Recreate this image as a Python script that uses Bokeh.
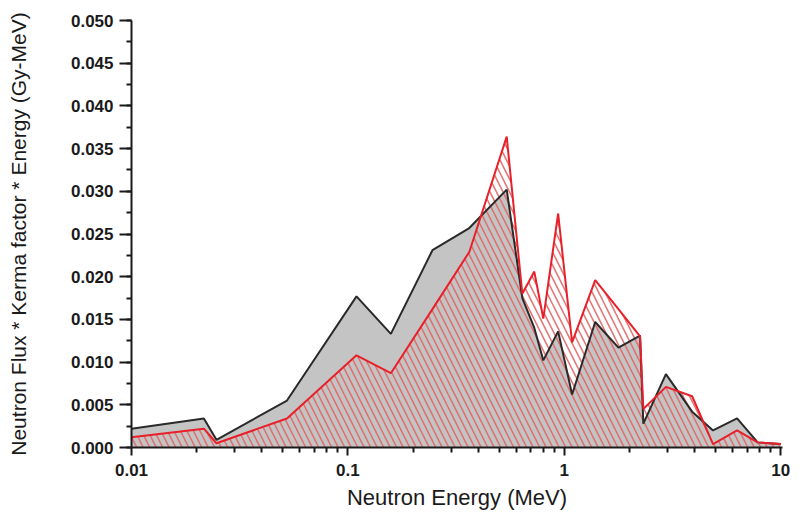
from bokeh.plotting import figure
from bokeh.models import FixedTicker, SingleIntervalTicker, Range1d, PrintfTickFormatter
from bokeh.embed import file_html
from bokeh.resources import INLINE

# Neutron energy (MeV)
energy = [0.01, 0.0216, 0.0247, 0.0523, 0.1096, 0.158, 0.246, 0.364, 0.542,
          0.64, 0.727, 0.80, 0.937, 1.087, 1.39, 1.78, 2.24, 2.32, 2.95,
          3.9, 4.87, 6.29, 7.83, 10.0]
# Black series (gray filled)
black_vals = [0.0022, 0.0034, 0.0009, 0.0055, 0.0177, 0.0133, 0.0231, 0.0257, 0.0302,
              0.0175, 0.0140, 0.0102, 0.0136, 0.0062, 0.0147, 0.0117, 0.0131, 0.0028,
              0.0086, 0.0042, 0.0020, 0.0034, 0.0006, 0.0004]
# Red series (hatched)
red_vals = [0.0012, 0.0022, 0.0005, 0.0034, 0.0108, 0.0087, 0.0162, 0.0229, 0.0364,
            0.0180, 0.0206, 0.0151, 0.0274, 0.0123, 0.0196, 0.0162, 0.0130, 0.0045,
            0.0071, 0.0060, 0.0004, 0.0020, 0.0006, 0.0004]

x_major = [0.01, 0.1, 1, 10]
x_labels = ["0.01", "0.1", "1", "10"]

FONT = "Liberation Sans"

p = figure(width=800, height=521, x_axis_type="log",
           x_range=Range1d(0.01, 10.2), y_range=Range1d(0, 0.05),
           output_backend="svg", toolbar_location=None,
           min_border_left=131, min_border_right=18,
           min_border_top=20, min_border_bottom=74)
p.outline_line_color = None
p.grid.visible = False
p.background_fill_color = "white"
p.border_fill_color = "white"

zeros = [0.0] * len(energy)
p.varea(x=energy, y1=zeros, y2=black_vals, fill_color="#c4c4c4")
p.varea(x=energy, y1=zeros, y2=red_vals, fill_alpha=0.0,
        hatch_pattern="\\", hatch_color="#e06868", hatch_alpha=0.9,
        hatch_scale=13, hatch_weight=1.6)
p.line(energy, black_vals, line_color="#2a2a2a", line_width=2)
p.line(energy, red_vals, line_color="#e8202a", line_width=2)

minor = [m * d for d in [0.01, 0.1, 1] for m in range(2, 10)]
p.xaxis.ticker = FixedTicker(ticks=x_major, minor_ticks=minor)
p.xaxis.major_label_overrides = {v: l for v, l in zip(x_major, x_labels)}
p.yaxis.ticker = SingleIntervalTicker(interval=0.005, num_minor_ticks=2)
p.yaxis.formatter = PrintfTickFormatter(format="%.3f")

for ax in (p.xaxis, p.yaxis):
    ax.axis_line_width = 2
    ax.axis_line_color = "#1a1a1a"
    ax.major_tick_line_width = 2
    ax.minor_tick_line_width = 2
    ax.major_tick_line_color = "#1a1a1a"
    ax.minor_tick_line_color = "#1a1a1a"
    ax.major_tick_in = 0
    ax.minor_tick_in = 0
    ax.major_label_text_font = FONT
    ax.major_label_text_font_style = "bold"
    ax.major_label_text_font_size = "17px"
    ax.major_label_text_color = "#1a1a1a"
    ax.axis_label_text_font = FONT
    ax.axis_label_text_font_style = "normal"
    ax.axis_label_text_font_size = "21px"
    ax.axis_label_text_color = "#1a1a1a"

p.xaxis.major_tick_out = 8
p.xaxis.minor_tick_out = 5
p.xaxis.major_label_standoff = 8
p.xaxis.axis_label_standoff = 6
p.xaxis.axis_label_text_font_size = "22px"
p.xaxis.axis_label = "Neutron Energy (MeV)"

p.yaxis.major_tick_out = 12
p.yaxis.minor_tick_out = 5
p.yaxis.major_label_standoff = 6
p.yaxis.axis_label_standoff = 38
p.yaxis.axis_label = "Neutron Flux * Kerma factor * Energy (Gy-MeV)"

open("out.html", "w").write(file_html(p, INLINE))
